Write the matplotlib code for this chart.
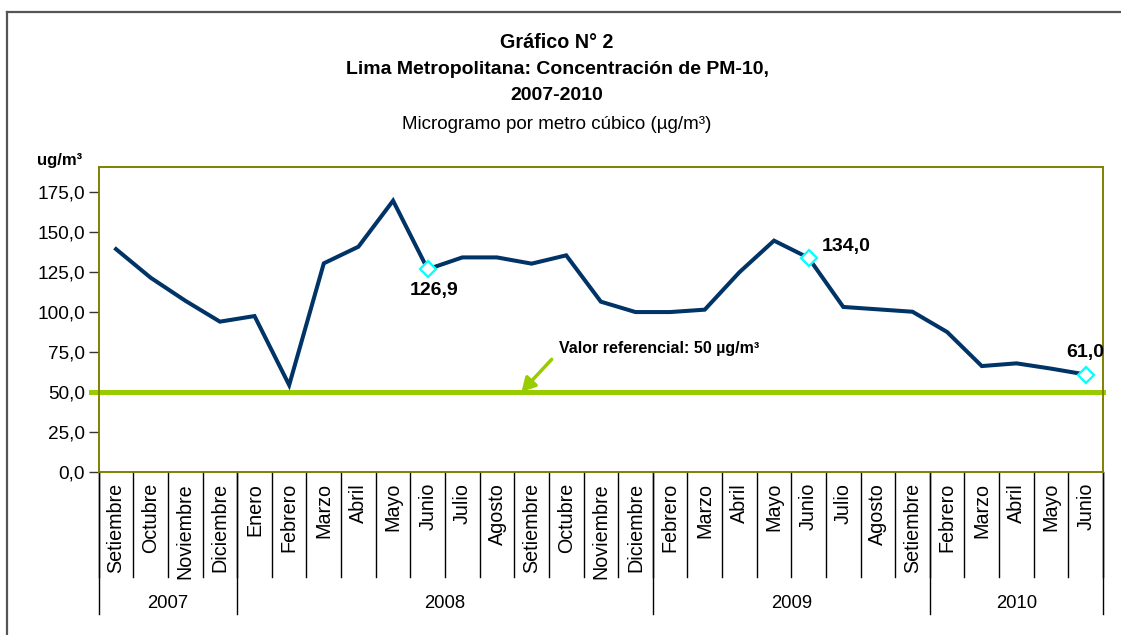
import matplotlib
matplotlib.use("Agg")
import matplotlib.pyplot as plt
from matplotlib import font_manager
from matplotlib.lines import Line2D

months = ["Setiembre", "Octubre", "Noviembre", "Diciembre",
          "Enero", "Febrero", "Marzo", "Abril", "Mayo", "Junio", "Julio", "Agosto",
          "Setiembre", "Octubre", "Noviembre", "Diciembre",
          "Febrero", "Marzo", "Abril", "Mayo", "Junio", "Julio", "Agosto", "Setiembre",
          "Febrero", "Marzo", "Abril", "Mayo", "Junio"]
values = [139.5, 121.6, 107.2, 94.1,
          97.6, 54.4, 130.6, 141.0, 169.8, 126.9, 134.3, 134.3,
          130.4, 135.6, 106.6, 100.1,
          100.1, 101.6, 125.0, 144.8, 134.0, 103.3, 101.8, 100.3,
          87.6, 66.3, 68.0, 64.7, 61.0]
years = ["2007", "2008", "2009", "2010"]
year_counts = [4, 12, 8, 5]
highlight_idx = [9, 20, 28]
highlight_labels = ["126,9", "134,0", "61,0"]
ref_value = 50
yticks = [0, 25, 50, 75, 100, 125, 150, 175]

names = {f.name for f in font_manager.fontManager.ttflist}
NARROW = "Liberation Sans Narrow" if "Liberation Sans Narrow" in names else "Liberation Sans"
plt.rcParams["font.family"] = ["Liberation Sans", "DejaVu Sans"]

W, H = 1121, 635
fig = plt.figure(figsize=(W / 100, H / 100), dpi=100)
ax = fig.add_axes([98.7 / W, 1 - 472 / H, (1103 - 98.7) / W, (472 - 167.3) / H])

n = len(values)
x = list(range(n))
ax.set_xlim(-0.5, n - 0.5)
ax.set_ylim(0, 190.7)

ax.axhline(ref_value, xmin=-0.008, xmax=1, color="#99cc00", lw=3.6, clip_on=False, zorder=2)
ax.plot(x, values, color="#003366", lw=2.9, solid_joinstyle="miter", zorder=3)
ax.plot([x[i] for i in highlight_idx], [values[i] for i in highlight_idx], ls="none",
        marker="D", ms=8.5, mfc="white", mec="#00ffff", mew=1.6, zorder=4)

offsets = [(6, -21), (38, 11), (0, 22)]
for i, lab, (dx, dy) in zip(highlight_idx, highlight_labels, offsets):
    ax.annotate(lab, (x[i], values[i]), xytext=(dx, dy), textcoords="offset pixels",
                ha="center", va="center", fontsize=14, fontweight="bold", color="black")

ax.annotate("", xy=(11.71, 50.2), xytext=(12.58, 70.5),
            arrowprops=dict(arrowstyle="-|>,head_length=0.8,head_width=0.45",
                            color="#99cc00", lw=2.5, shrinkA=0, shrinkB=0))
ax.text(12.8, 77.5, "Valor referencial: 50 µg/m³", family=NARROW, fontweight="bold",
        fontsize=11.5, ha="left", va="center")

for s in ax.spines.values():
    s.set_color("#808000")
    s.set_linewidth(1.4)

ax.set_yticks(yticks)
ax.set_yticklabels([f"{v:.1f}".replace(".", ",") for v in yticks], fontsize=13.7)
ax.tick_params(axis="y", length=7, width=1, color="#333333", pad=3)
ax.set_xticks([])

tr = ax.get_xaxis_transform()
ah = 472 - 167.3
def fy(py):
    return (472 - py) / ah

for i, m in enumerate(months):
    ax.text(i, fy(483), m, rotation=90, ha="center", va="top", fontsize=14.2,
            transform=tr, clip_on=False)
for i in range(n + 1):
    ax.add_line(Line2D([i - 0.5, i - 0.5], [0, fy(577)], transform=tr, color="black",
                       lw=1, clip_on=False))
start = -0.5
for y, c in zip(years, year_counts):
    ax.add_line(Line2D([start, start], [0, fy(614)], transform=tr, color="black",
                       lw=1, clip_on=False))
    ax.text(start + c / 2, fy(604), y, ha="center", va="center", fontsize=13.3,
            transform=tr, clip_on=False)
    start += c
ax.add_line(Line2D([start, start], [0, fy(614)], transform=tr, color="black",
                   lw=1, clip_on=False))

cx = 557 / W
fig.text(cx, 1 - 43 / H, "Gráfico N° 2", family=NARROW, fontweight="bold", fontsize=14.2,
         ha="center", va="center")
fig.text(cx, 1 - 69 / H, "Lima Metropolitana: Concentración de PM-10,", family=NARROW,
         fontweight="bold", fontsize=14, ha="center", va="center")
fig.text(cx, 1 - 96 / H, "2007-2010", family=NARROW, fontweight="bold", fontsize=14,
         ha="center", va="center")
fig.text(cx, 1 - 124 / H, "Microgramo por metro cúbico (µg/m³)", family=NARROW,
         fontsize=13.5, ha="center", va="center")
fig.text(37 / W, 1 - 160 / H, "ug/m³", family=NARROW, fontweight="bold", fontsize=12,
         ha="left", va="center")

fig.add_artist(Line2D([7 / W, 1], [1 - 11.5 / H, 1 - 11.5 / H], transform=fig.transFigure,
                      color="#555555", lw=1.6))
fig.add_artist(Line2D([7 / W, 7 / W], [0, 1 - 11.5 / H], transform=fig.transFigure,
                      color="#555555", lw=1.6))

fig.savefig("out.png", dpi=100)
